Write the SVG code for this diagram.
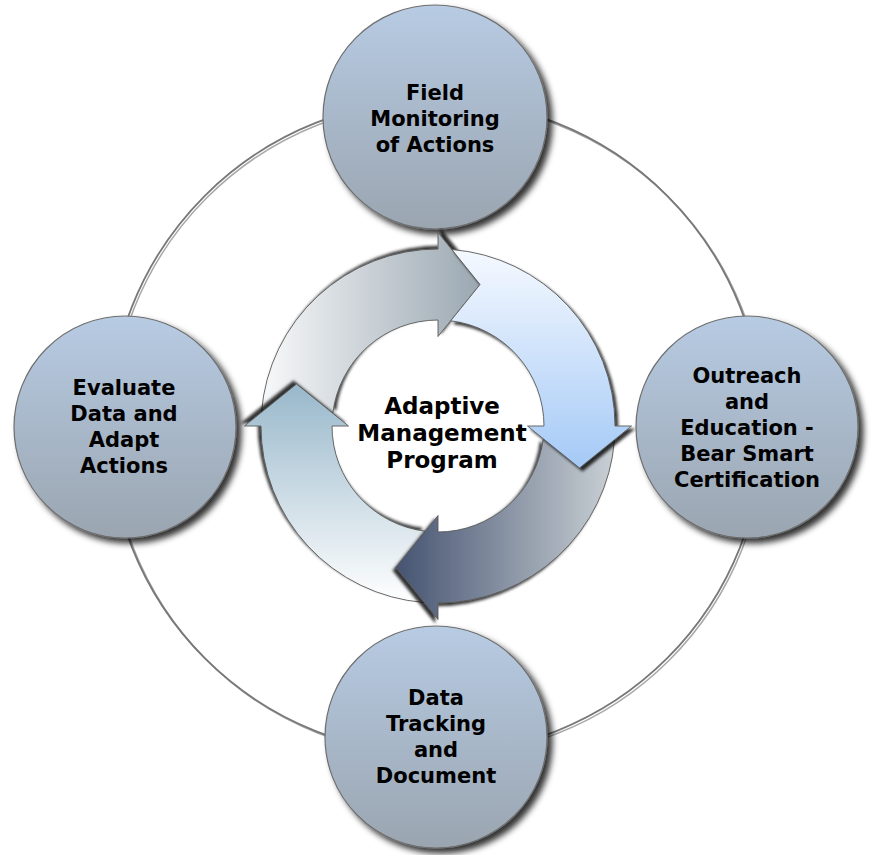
<svg xmlns="http://www.w3.org/2000/svg" width="872" height="855" viewBox="0 0 872 855">
<defs>
<style>
.t{font-family:"DejaVu Sans","Verdana","Liberation Sans",sans-serif;font-weight:bold;font-size:21px;text-anchor:middle;fill:#000}
.c{font-size:23px}
.node{fill:url(#gNode);stroke:#6e6e6e;stroke-width:1.2;filter:url(#ns)}
.arr{stroke:#5a5a5a;stroke-width:0.9;filter:url(#as)}
</style>
<linearGradient id="gNode" x1="0" y1="0" x2="0" y2="1">
<stop offset="0" stop-color="#b7cbe3"/>
<stop offset="1" stop-color="#9aa5b0"/>
</linearGradient>
<linearGradient id="gRight" gradientUnits="userSpaceOnUse" x1="0" y1="249" x2="0" y2="470">
<stop offset="0" stop-color="#f5f9ff"/><stop offset="1" stop-color="#a4c9f6"/>
</linearGradient>
<linearGradient id="gTop" gradientUnits="userSpaceOnUse" x1="0" y1="249" x2="0" y2="470">
<stop offset="0" stop-color="#f8f9fa"/><stop offset="1" stop-color="#9aa7b1"/>
</linearGradient>
<linearGradient id="gBottom" gradientUnits="userSpaceOnUse" x1="0" y1="249" x2="0" y2="470">
<stop offset="0" stop-color="#cad1d5"/><stop offset="1" stop-color="#445270"/>
</linearGradient>
<linearGradient id="gLeft" gradientUnits="userSpaceOnUse" x1="0" y1="249" x2="0" y2="470">
<stop offset="0" stop-color="#ffffff"/><stop offset="1" stop-color="#97b7ca"/>
</linearGradient>
<filter id="ns" x="-20%" y="-20%" width="150%" height="150%">
<feDropShadow dx="5" dy="5" stdDeviation="3" flood-color="#000" flood-opacity="0.8"/>
</filter>
<filter id="as" x="-20%" y="-20%" width="140%" height="140%">
<feDropShadow dx="3" dy="3" stdDeviation="1.6" flood-color="#000" flood-opacity="0.8"/>
</filter>
<path id="arrowShape" d="M451.8,249.5 A177,177 0 0 1 615,426 L631.5,426 L579.5,468 L527.5,426 L544,426 A106,106 0 0 0 450.7,320.8 L480,284.5 Z"/>
</defs>
<rect width="872" height="855" fill="#fff"/>
<g id="connectors">
<circle cx="438" cy="429" r="327" fill="none" stroke="#a8a8a8" stroke-width="1.5"/>
<circle cx="436" cy="427" r="327" fill="none" stroke="#787878" stroke-width="1.8"/>
</g>
<g id="node-field-monitoring">
<circle class="node" cx="435" cy="117" r="112"/>
<text class="t" x="435" y="100">Field</text>
<text class="t" x="435" y="126">Monitoring</text>
<text class="t" x="435" y="152">of Actions</text>
</g>
<g id="node-outreach">
<circle class="node" cx="747" cy="427" r="111"/>
<text class="t" x="747" y="383">Outreach</text>
<text class="t" x="747" y="409">and</text>
<text class="t" x="747" y="435">Education -</text>
<text class="t" x="747" y="461">Bear Smart</text>
<text class="t" x="747" y="487">Certification</text>
</g>
<g id="node-evaluate">
<circle class="node" cx="125" cy="427" r="111"/>
<text class="t" x="124" y="395">Evaluate</text>
<text class="t" x="124" y="421">Data and</text>
<text class="t" x="124" y="447">Adapt</text>
<text class="t" x="124" y="473">Actions</text>
</g>
<g id="node-data-tracking">
<circle class="node" cx="436" cy="737" r="111"/>
<text class="t" x="436" y="705">Data</text>
<text class="t" x="436" y="731">Tracking</text>
<text class="t" x="436" y="757">and</text>
<text class="t" x="436" y="783">Document</text>
</g>
<g id="cycle">
<use href="#arrowShape" class="arr" fill="url(#gTop)" transform="rotate(-90 438 426)"/>
<use href="#arrowShape" class="arr" fill="url(#gLeft)" transform="rotate(180 438 426)"/>
<use href="#arrowShape" class="arr" fill="url(#gBottom)" transform="rotate(90 438 426)"/>
<use href="#arrowShape" class="arr" fill="url(#gRight)"/>
</g>
<g id="node-center">
<text class="t c" x="442" y="414">Adaptive</text>
<text class="t c" x="442" y="441">Management</text>
<text class="t c" x="442" y="468">Program</text>
</g>
</svg>
